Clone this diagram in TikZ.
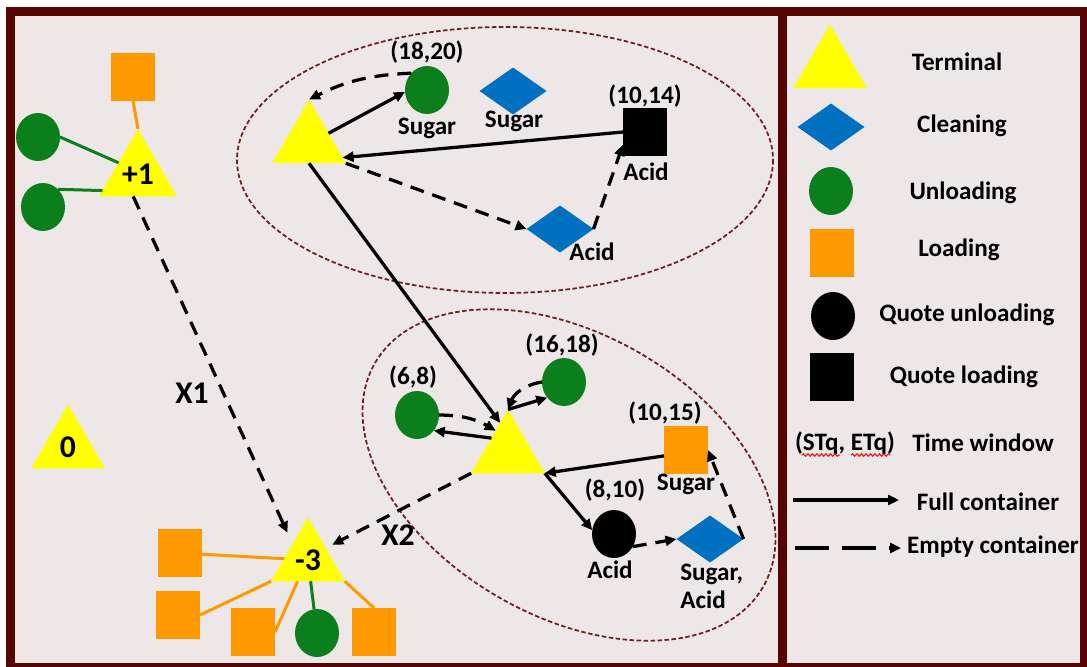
\documentclass[tikz,border=0pt]{standalone}
\usepackage{fontspec}
\setmainfont{Carlito}
\usetikzlibrary{shapes.geometric,arrows.meta,decorations.pathmorphing}

\definecolor{framered}{HTML}{560404}
\definecolor{paper}{HTML}{EDE7E7}
\definecolor{termyellow}{HTML}{FFFF00}
\definecolor{unldgreen}{HTML}{0B7F1B}
\definecolor{ldorange}{HTML}{FF9900}
\definecolor{clnblue}{HTML}{0070C0}
\definecolor{ringred}{HTML}{6E1E1E}

\begin{document}
\begin{tikzpicture}[x=0.02cm, y=-0.02cm,
    font=\fontsize{14.3}{16}\selectfont\bfseries,
    terminal/.style={regular polygon, regular polygon sides=3, fill=termyellow,
        minimum size=1.70cm, inner sep=0pt, outer sep=0pt,
        font=\fontsize{18}{20}\selectfont\bfseries},
    unloading/.style={ellipse, fill=unldgreen, minimum width=0.88cm,
        minimum height=0.96cm, inner sep=0pt, outer sep=0pt},
    loading/.style={rectangle, fill=ldorange, minimum width=0.88cm,
        minimum height=0.96cm, inner sep=0pt, outer sep=0pt},
    cleaning/.style={diamond, fill=clnblue, minimum width=1.34cm,
        minimum height=0.94cm, inner sep=0pt, outer sep=0pt},
    qunloading/.style={unloading, fill=black},
    qloading/.style={loading, fill=black},
    tag/.style={inner sep=0pt},
    bigtag/.style={inner sep=0pt, font=\fontsize{18}{20}\selectfont\bfseries},
    full/.style={-{Triangle[length=0.22cm,width=0.2cm]}, line width=0.065cm},
    empty/.style={full, dash pattern=on 0.28cm off 0.18cm},
    gline/.style={unldgreen, line width=0.06cm},
    oline/.style={ldorange, line width=0.06cm},
    ring/.style={ringred, line width=0.035cm, dash pattern=on 0.09cm off 0.05cm}]

    \path[use as bounding box] (0,0) rectangle (1087,666);
    \clip (0,0) rectangle (1087,666);

    % Background
    \fill[white] (0,0) rectangle (1087,666);
    \fill[paper] (10.5,11.5) rectangle (1084.5,667.5);

    % Groups
    \draw[ring] (505,160) ellipse [x radius=268, y radius=133];
    \draw[ring, shift={(569,475)}, rotate=-30] (0,0) ellipse [x radius=224, y radius=141];

    % Terminal +1
    \node[terminal] (tp1) at (138,174) {+1};
    \node[loading] (lp1) at (133,77) {};
    \node[unloading] (up1a) at (38,137) {};
    \node[unloading] (up1b) at (43,207) {};
    \draw[oline] (lp1.south) -- (tp1.corner 1);
    \draw[gline] (up1a.east) -- (tp1.150);
    \draw[gline] (up1b.50) -- (tp1.205);

    % Terminal 0
    \node[terminal] (t0) at (68,447) {0};

    % Terminal -3
    \node[terminal] (tm3) at (308,560) {-3};
    \node[loading] (lm3a) at (180,553) {};
    \node[loading] (lm3b) at (178,615) {};
    \node[loading] (lm3c) at (253,632) {};
    \node[unloading] (um3) at (317,633) {};
    \node[loading] (lm3d) at (374,632) {};
    \draw[oline] (lm3a) -- (tm3);
    \draw[oline] (lm3b.east) -- (tm3.corner 2);
    \draw[oline] (lm3c.east) -- (tm3.244);
    \draw[gline] (um3) -- (tm3);
    \draw[oline] (lm3d.north) -- (tm3.corner 3);

    % Upper group
    \node[terminal] (t1) at (309,142) {};
    \node[unloading] (u1) at (427,90) {};
    \node[cleaning] (c1) at (513,91) {};
    \node[qloading] (q1) at (645,132) {};
    \node[cleaning] (c2) at (560,229) {};
    \node[tag] (u1tw) at (427,52) {(18,20)};
    \node[tag] (u1pr) at (427,128) {Sugar};
    \node[tag] (c1pr) at (514,121) {Sugar};
    \node[tag] (q1tw) at (645,96) {(10,14)};
    \node[tag] (q1pr) at (646,172) {Acid};
    \node[tag] (c2pr) at (592,252) {Acid};

    % Lower group
    \node[terminal] (t2) at (508,452) {};
    \node[unloading] (u2) at (417,415) {};
    \node[unloading] (u3) at (564,382) {};
    \node[loading] (l2) at (686,450) {};
    \node[qunloading] (q2) at (614,534) {};
    \node[cleaning] (c3) at (710,539) {};
    \node[tag] (u2tw) at (413,377) {(6,8)};
    \node[tag] (u3tw) at (562,345) {(16,18)};
    \node[tag] (l2tw) at (665,413) {(10,15)};
    \node[tag] (l2pr) at (686,484) {Sugar};
    \node[tag] (q2tw) at (615,490) {(8,10)};
    \node[tag] (q2pr) at (610,570) {Acid};
    \node[tag, align=left, anchor=west] (c3pr) at (680,586) {Sugar,\\Acid};

    % Connections
    \draw[full] (t1.24) -- (u1.185);
    \draw[empty] (u1.133) to[bend right=12] (t1.corner 1);
    \draw[full] (q1.west) -- (t1.335);
    \draw[empty] (t1.corner 3) -- (c2.west);
    \draw[empty] (c2.east) -- (q1.210);
    \draw[full] (t1.south) -- (t2.105);

    \draw[full] (t2.140) -- (u2.317);
    \draw[empty] (u2.east) to[bend left=15] (t2.120);
    \draw[full] (t2.corner 1) -- (u3.223);
    \draw[empty] (u3.west) to[bend right=30] (t2.corner 1);
    \draw[full] (l2.195) -- (t2.corner 3);
    \draw[full] (t2.corner 3) -- (q2.170);
    \draw[empty] (q2.326) -- (c3.west);
    \draw[empty] (c3.east) -- (l2.east);

    \draw[empty, shorten >=0.25cm] (tp1.258) -- (tm3.134);
    \draw[empty, shorten >=0.15cm] (t2.corner 2) -- (tm3.34);
    \node[bigtag] (x1) at (192,393) {X1};
    \node[bigtag] (x2) at (398,535) {X2};

    % Legend
    \node[terminal] (lgt) at (830,67) {};
    \node[tag] (lgttx) at (957,62) {Terminal};
    \node[cleaning] (lgc) at (831,127) {};
    \node[tag] (lgctx) at (962,126) {Cleaning};
    \node[unloading] (lgu) at (831,191) {};
    \node[tag] (lgutx) at (963,193) {Unloading};
    \node[loading] (lgl) at (832,253) {};
    \node[tag] (lgltx) at (959,250) {Loading};
    \node[qunloading] (lgqu) at (833,316) {};
    \node[tag] (lgqutx) at (967,315) {Quote unloading};
    \node[qloading] (lgql) at (832,377) {};
    \node[tag] (lgqltx) at (964,377) {Quote loading};
    \node[tag] (lgtw) at (845,443) {(STq, ETq)};
    \node[tag] (lgtwtx) at (983,443) {Time window};
    \draw[red, line width=0.02cm, decorate,
        decoration={snake, amplitude=0.025cm, segment length=0.09cm}] (802,455) -- (840,455);
    \draw[red, line width=0.02cm, decorate,
        decoration={snake, amplitude=0.025cm, segment length=0.09cm}] (851,455) -- (890,455);
    \coordinate (lgf1) at (793,500);
    \coordinate (lgf2) at (899,500);
    \draw[full] (lgf1) -- (lgf2);
    \node[tag] (lgftx) at (988,502) {Full container};
    \coordinate (lge1) at (795,548);
    \coordinate (lge2) at (901,548);
    \draw[empty, dash pattern=on 0.68cm off 0.26cm] (lge1) -- (lge2);
    \node[tag] (lgetx) at (993,547) {Empty container};

    % Frame
    \draw[framered, line width=0.18cm] (10.5,11.5) rectangle (1084.5,667.5);
    \draw[framered, line width=0.18cm] (782.5,11.5) -- (782.5,667.5);
\end{tikzpicture}
\end{document}
